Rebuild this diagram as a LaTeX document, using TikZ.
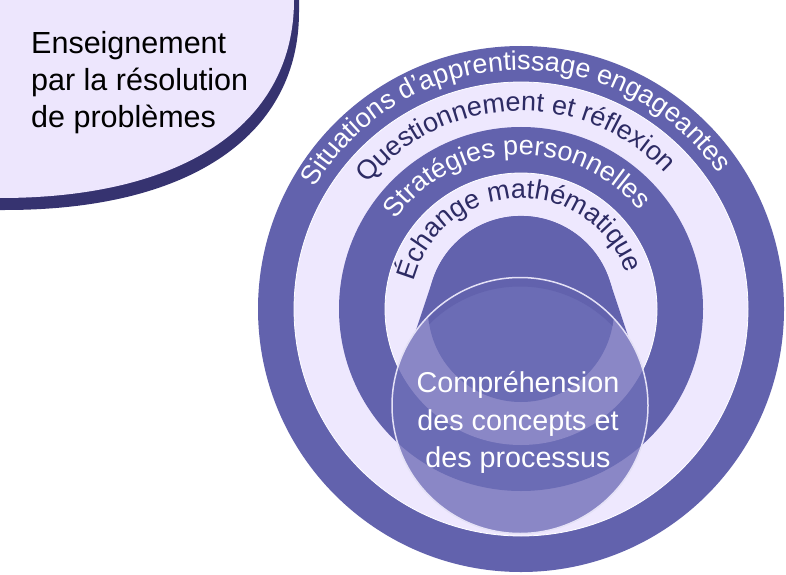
\documentclass[tikz,border=0pt]{standalone}
\usepackage{fontspec}
\setmainfont{Liberation Sans}
\usetikzlibrary{decorations.text}
\definecolor{ringdark}{RGB}{98,98,173}
\definecolor{ringlight}{RGB}{238,232,254}
\definecolor{navy}{RGB}{45,43,100}
\definecolor{shadownavy}{RGB}{54,51,112}
\definecolor{bubblefill}{RGB}{237,230,253}
\definecolor{compdark}{RGB}{107,108,181}
\definecolor{complight}{RGB}{138,135,198}
\definecolor{compline}{RGB}{228,225,246}
\newcommand{\ringW}{\fontsize{27}{27}\selectfont\color{white}}
\newcommand{\ringN}{\fontsize{27}{27}\selectfont\color{navy}}
\tikzset{
  lightring/.style={fill=ringlight, draw=white, line width=0.8pt},
  bubbletxt/.style={anchor=base west, inner sep=0pt, text=black, font=\fontsize{30.5}{30.5}\selectfont},
  comptxt/.style={anchor=base, inner sep=0pt, text=white, font=\fontsize{28.7}{28.7}\selectfont},
}
\begin{document}
\begin{tikzpicture}[x=1pt,y=1pt]
\useasboundingbox (0,0) rectangle (786,574);
\clip (0,0) rectangle (786,574);
\fill[white] (0,0) rectangle (786,574);
% bubble
\fill[shadownavy] (299,590) -- (299,562) .. controls (299,442) and (195,364) .. (5,364) -- (-10,364) -- (-10,590) -- cycle;
\fill[bubblefill] (294,590) -- (294,574) .. controls (294,454) and (190,376) .. (0,376) -- (-10,376) -- (-10,590) -- cycle;
\node[bubbletxt] (bt1) at (31,520) {Enseignement};
\node[bubbletxt] (bt2) at (31,483) {par la résolution};
\node[bubbletxt] (bt3) at (31,446) {de problèmes};
% rings
\coordinate (ctr) at (521,265);
\fill[ringdark] (ctr) circle[radius=263];
\filldraw[lightring] (ctr) circle[radius=227];
\fill[ringdark] (ctr) circle[radius=182];
\filldraw[lightring] (ctr) circle[radius=136];
\fill[ringdark] (ctr) circle[radius=93];
% dome
\fill[ringdark] (432.8,294.4) arc[start angle=161.6, end angle=18.4, radius=93] -- (640.8,199.5) -- (401.2,199.5) -- cycle;
% comprehension circle
\begin{scope}
\clip (520,168.5) circle[radius=128];
\fill[compdark] (380,30) rectangle (660,310);
\fill[complight] (ctr) circle[radius=227];
\fill[compdark] (ctr) circle[radius=182];
\fill[complight] (ctr) circle[radius=136];
\fill[compdark] (ctr) circle[radius=93];
\begin{scope}
\clip (ctr) circle[radius=93];
\fill[ringdark, even odd rule] (520,168.5) circle[radius=128] (520,159.5) circle[radius=128];
\end{scope}
\end{scope}
\node[circle, draw=compline, line width=1.5pt, minimum size=256pt, inner sep=0pt] (comp) at (520,168.5) {};
% ring texts
\path[decorate, decoration={text along path, text align=center, text={|\ringW|Situations d’apprentissage engageantes}}]
  ([shift={(182:239)}]ctr) arc[start angle=182, end angle=2, radius=239];
\path[decorate, decoration={text along path, text align=center, text={|\ringN|Questionnement et réflexion}}]
  ([shift={(182:198)}]ctr) arc[start angle=182, end angle=2, radius=198];
\path[decorate, decoration={text along path, text align=center, text={|\ringW|Stratégies personnelles}}]
  ([shift={(182:154)}]ctr) arc[start angle=182, end angle=2, radius=154];
\path[decorate, decoration={text along path, text align=center, text={|\ringN|Échange mathématique}}]
  ([shift={(182:111)}]ctr) arc[start angle=182, end angle=2, radius=111];
% centre text
\node[comptxt] (ct1) at (518,181.3) {Compréhension};
\node[comptxt] (ct2) at (518,144) {des concepts et};
\node[comptxt] (ct3) at (518,106.7) {des processus};
\end{tikzpicture}
\end{document}
